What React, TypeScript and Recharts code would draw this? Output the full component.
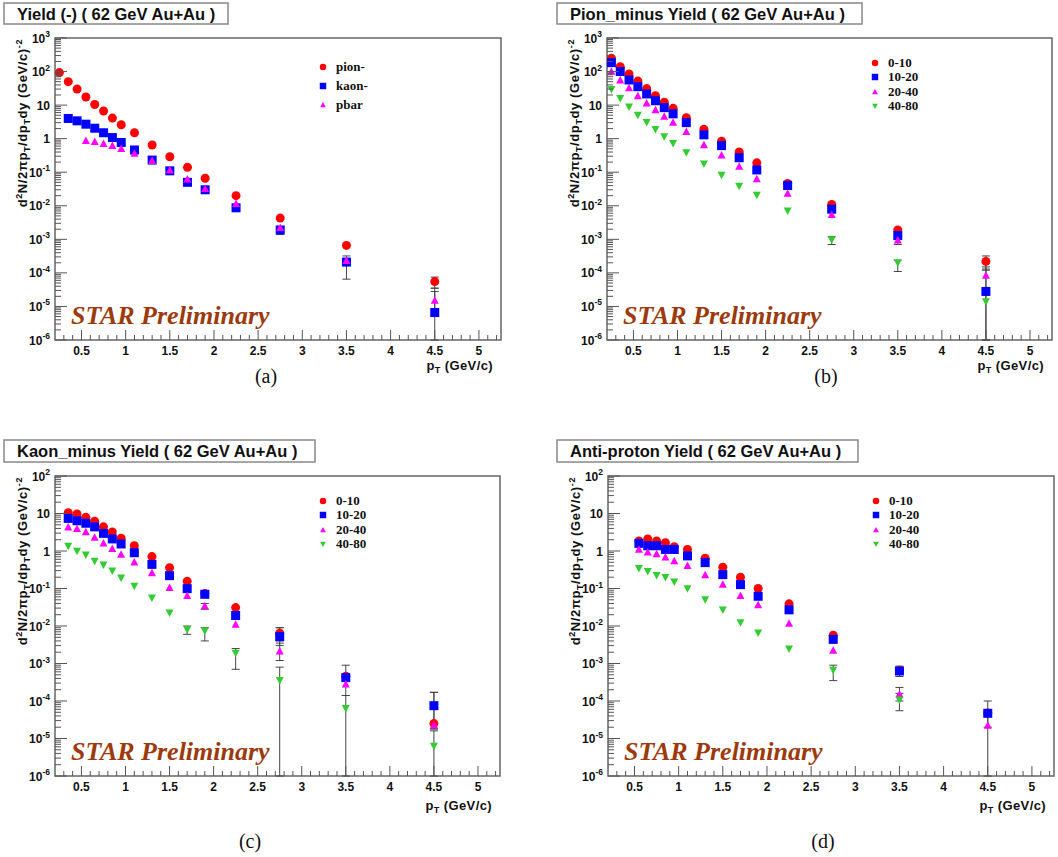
import React from "react";
import { ScatterChart, Scatter, XAxis, YAxis, ErrorBar, ReferenceArea, Legend } from "recharts";

// pT bin centres (GeV/c), shared by every spectrum
const ptBins = [0.25, 0.35, 0.45, 0.55, 0.65, 0.75, 0.85, 0.95, 1.1, 1.3, 1.5, 1.7, 1.9, 2.25, 2.75, 3.5, 4.5];

// labelled axis ticks
const ptMajorTicks = [0.5, 1, 1.5, 2, 2.5, 3, 3.5, 4, 4.5, 5];
const decadesTop = [1e-6, 1e-5, 1e-4, 1e-3, 1e-2, 1e-1, 1, 10, 100, 1000];
const decadesBottom = [1e-6, 1e-5, 1e-4, 1e-3, 1e-2, 1e-1, 1, 10, 100];

// (a) negative particles, all centralities
const yieldPion = [93, 50, 30, 17.5, 10.4, 6.7, 4.1, 2.6, 1.5, 0.65, 0.29, 0.14, 0.066, 0.02, 0.0043, 6.6e-4, 5.5e-5];
const yieldKaon = [null, 4.0, 3.4, 2.7, 2.05, 1.5, 1.08, 0.77, 0.46, 0.23, 0.11, 0.05, 0.03, 0.0087, 0.0019, 2.1e-4, 6.6e-6];
const yieldPbar = [null, null, null, 0.86, 0.8, 0.7, 0.61, 0.5, 0.36, 0.22, 0.115, 0.062, 0.032, 0.0115, 0.0022, 2.3e-4, 1.5e-5];

// (b) pi- by centrality
const pion0010 = [250, 140, 85, 52, 31, 19, 12.2, 8.0, 4.2, 1.9, 0.84, 0.4, 0.19, 0.046, 0.011, 0.0019, 2.2e-4];
const pion1020 = [184, 100, 56, 35.5, 21.5, 13.5, 8.4, 5.5, 3.0, 1.3, 0.62, 0.27, 0.117, 0.04, 0.0079, 0.0013, 2.8e-5];
const pion2040 = [100, 55, 32, 18.6, 11.4, 7.1, 4.6, 3.0, 1.6, 0.65, 0.32, 0.148, 0.063, 0.023, 0.0054, 9.3e-4, 8.3e-5];
const pion4080 = [30, 16, 9.0, 5.1, 3.1, 1.9, 1.16, 0.73, 0.39, 0.18, 0.083, 0.039, 0.021, 0.0071, 9.8e-4, 2.0e-4, 1.4e-5];

// (c) K- by centrality
const kaon0010 = [null, 10.5, 9.7, 7.9, 6.2, 4.4, 3.2, 2.2, 1.38, 0.71, 0.36, 0.155, 0.074, 0.031, 0.0064, 4.6e-4, 2.5e-5];
const kaon1020 = [null, 7.4, 6.4, 5.5, 4.4, 2.95, 2.1, 1.54, 0.9, 0.44, 0.22, 0.099, 0.07, 0.019, 0.0052, 4.2e-4, 7.5e-5];
const kaon2040 = [null, 4.3, 3.9, 3.2, 2.3, 1.6, 1.15, 0.8, 0.5, 0.26, 0.105, 0.064, 0.034, 0.011, 0.0021, 2.8e-4, 2.3e-5];
const kaon4080 = [null, 1.36, 1.0, 0.8, 0.54, 0.43, 0.3, 0.195, 0.117, 0.057, 0.0226, 0.0081, 0.0075, 0.0019, 3.6e-4, 6.4e-5, 6.3e-6];

// (d) anti-proton by centrality
const pbar0010 = [null, null, null, 1.85, 2.1, 1.85, 1.66, 1.3, 1.1, 0.64, 0.37, 0.2, 0.1, 0.039, 0.0057, 6.6e-4, 4.8e-5];
const pbar1020 = [null, null, null, 1.6, 1.38, 1.38, 1.1, 1.1, 0.74, 0.49, 0.234, 0.127, 0.062, 0.027, 0.0044, 6.3e-4, 4.7e-5];
const pbar2040 = [null, null, null, 1.1, 0.92, 0.83, 0.68, 0.54, 0.4, 0.23, 0.127, 0.064, 0.036, 0.0117, 0.0022, 1.5e-4, 2.2e-5];
const pbar4080 = [null, null, null, 0.35, 0.29, 0.225, 0.2, 0.152, 0.1, 0.051, 0.027, 0.0125, 0.0066, 0.0025, 6.7e-4, 1.08e-4, null];

// error ranges [low, high] where the bars are visible, keyed by pT
type ErrMap = Record<string, [number, number]>;
const errPionA: ErrMap = { "4.5": [3.5e-5, 7.5e-5] };
const errKaonA: ErrMap = { "2.75": [1.4e-3, 2.4e-3], "3.5": [6.5e-5, 3.2e-4], "4.5": [1e-6, 3.5e-5] };
const errPbarA: ErrMap = { "4.5": [5e-6, 2.8e-5] };
const errPion0010: ErrMap = { "4.5": [1.2e-4, 3.2e-4] };
const errPion1020: ErrMap = { "4.5": [1e-6, 1.3e-4] };
const errPion2040: ErrMap = { "3.5": [7e-4, 1.2e-3], "4.5": [3e-5, 1.5e-4] };
const errPion4080: ErrMap = { "2.75": [7e-4, 1.2e-3], "3.5": [1.1e-4, 2.4e-4], "4.5": [1e-6, 3e-5] };
const errKaon0010: ErrMap = { "2.75": [4e-3, 9e-3], "4.5": [1.8e-5, 1.7e-4] };
const errKaon1020: ErrMap = { "2.75": [3e-3, 9e-3], "3.5": [1.4e-4, 9e-4], "4.5": [1.8e-5, 1.7e-4] };
const errKaon2040: ErrMap = { "1.9": [0.028, 0.04], "2.75": [1.2e-3, 3.5e-3] };
const errKaon4080: ErrMap = { "1.7": [6e-3, 1e-2], "1.9": [4e-3, 9e-3], "2.25": [7e-4, 2.5e-3], "2.75": [1e-6, 8e-4], "3.5": [1e-6, 1.4e-4], "4.5": [1e-6, 1.6e-5] };
const errPbar1020: ErrMap = { "3.5": [4.5e-4, 8.5e-4], "4.5": [2e-5, 1e-4] };
const errPbar2040: ErrMap = { "3.5": [1e-4, 2.3e-4], "4.5": [1e-6, 4e-5] };
const errPbar4080: ErrMap = { "2.75": [3.5e-4, 9e-4], "3.5": [5.5e-5, 1.6e-4] };

const RED = "#ff0000";
const BLUE = "#0000ff";
const MAGENTA = "#ff00ff";
const GREEN = "#33cc33";
const AXIS = "#555";

type Kind = "circle" | "square" | "up" | "down";
interface SeriesDef { name: string; values: (number | null)[]; errors?: ErrMap; color: string; kind: Kind }

const toPoints = (values: (number | null)[], errors?: ErrMap) =>
  ptBins
    .map((x, i) => {
      const y = values[i];
      const e = errors ? errors[String(x)] : undefined;
      return { x, y, err: e && y != null ? [y - e[0], e[1] - y] : undefined };
    })
    .filter((p) => p.y != null);

const minorTicks = (decades: number[]) => {
  const out: number[] = [];
  decades.forEach((d, i) => {
    out.push(d);
    if (i < decades.length - 1) for (let m = 2; m <= 9; m++) out.push(+(m * d).toPrecision(3));
  });
  return out;
};
const xTicks = Array.from({ length: 50 }, (_, k) => (k + 3) / 10);

function Marker({ cx, cy, kind, color, s = 1 }: { cx: number; cy: number; kind: Kind; color: string; s?: number }) {
  if (kind === "circle") return <circle cx={cx} cy={cy} r={4.5 * s} fill={color} />;
  if (kind === "square") return <rect x={cx - 4.5 * s} y={cy - 4.5 * s} width={9 * s} height={9 * s} fill={color} />;
  const w = 4 * s, t = 4.3 * s, b = 3.2 * s;
  if (kind === "up") return <polygon points={`${cx},${cy - t} ${cx + w},${cy + b} ${cx - w},${cy + b}`} fill={color} />;
  return <polygon points={`${cx - w},${cy - b} ${cx + w},${cy - b} ${cx},${cy + t}`} fill={color} />;
}

const YTick = (props: any) => {
  const { x, y, payload } = props;
  const v = payload.value;
  const lg = Math.log10(v);
  const e = Math.round(lg);
  const major = Math.abs(lg - e) < 1e-6;
  const ax = x + 5;
  return (
    <g>
      <line x1={ax} x2={ax + (major ? 12 : 6)} y1={y} y2={y} stroke={AXIS} strokeWidth={1} />
      {major && (
        <text x={x} y={y + 4.5} textAnchor="end" fontSize={12} fontWeight="bold" fill="#111">
          {e === 0 ? "1" : "10"}
          {e !== 0 && e !== 1 && <tspan dy={-5.5} fontSize={8.5}>{e}</tspan>}
        </text>
      )}
    </g>
  );
};

const XTick = (props: any) => {
  const { x, y, payload } = props;
  const v = payload.value;
  const major = ptMajorTicks.some((t) => Math.abs(t - v) < 1e-6);
  const ay = y - 4;
  return (
    <g>
      <line x1={x} x2={x} y1={ay} y2={ay - (major ? 10 : 5)} stroke={AXIS} strokeWidth={1} />
      {major && (
        <text x={x} y={ay + 15} textAnchor="middle" fontSize={12} fontWeight="bold" fill="#111">
          {String(v)}
        </text>
      )}
    </g>
  );
};

interface PanelDef {
  title: string;
  box: { x: number; y: number; w: number; h: number };
  frame: { x: number; y: number; w: number; h: number };
  decades: number[];
  series: SeriesDef[];
  rowH: number;
  caption: { x: number; y: number; text: string };
  xTitleY: number;
}

const PT_MIN = 0.2;
const PT_MAX = 5.25;

const panels: PanelDef[] = [
  {
    title: "Yield (-) ( 62 GeV Au+Au )",
    box: { x: 4, y: 3, w: 224, h: 21 },
    frame: { x: 55, y: 38, w: 446, h: 302 },
    decades: decadesTop,
    rowH: 19,
    caption: { x: 266, y: 383, text: "(a)" },
    xTitleY: 370,
    series: [
      { name: "pion-", values: yieldPion, errors: errPionA, color: RED, kind: "circle" },
      { name: "kaon-", values: yieldKaon, errors: errKaonA, color: BLUE, kind: "square" },
      { name: "pbar", values: yieldPbar, errors: errPbarA, color: MAGENTA, kind: "up" },
    ],
  },
  {
    title: "Pion_minus Yield ( 62 GeV Au+Au )",
    box: { x: 557, y: 3, w: 305, h: 21 },
    frame: { x: 607, y: 38, w: 445, h: 302 },
    decades: decadesTop,
    rowH: 14.3,
    caption: { x: 826, y: 383, text: "(b)" },
    xTitleY: 370,
    series: [
      { name: "0-10", values: pion0010, errors: errPion0010, color: RED, kind: "circle" },
      { name: "10-20", values: pion1020, errors: errPion1020, color: BLUE, kind: "square" },
      { name: "20-40", values: pion2040, errors: errPion2040, color: MAGENTA, kind: "up" },
      { name: "40-80", values: pion4080, errors: errPion4080, color: GREEN, kind: "down" },
    ],
  },
  {
    title: "Kaon_minus Yield ( 62 GeV Au+Au )",
    box: { x: 4, y: 440, w: 311, h: 22 },
    frame: { x: 55, y: 476, w: 445, h: 300 },
    decades: decadesBottom,
    rowH: 14.3,
    caption: { x: 250, y: 848, text: "(c)" },
    xTitleY: 810,
    series: [
      { name: "0-10", values: kaon0010, errors: errKaon0010, color: RED, kind: "circle" },
      { name: "10-20", values: kaon1020, errors: errKaon1020, color: BLUE, kind: "square" },
      { name: "20-40", values: kaon2040, errors: errKaon2040, color: MAGENTA, kind: "up" },
      { name: "40-80", values: kaon4080, errors: errKaon4080, color: GREEN, kind: "down" },
    ],
  },
  {
    title: "Anti-proton Yield ( 62 GeV Au+Au )",
    box: { x: 557, y: 440, w: 301, h: 22 },
    frame: { x: 608, y: 476, w: 446, h: 300 },
    decades: decadesBottom,
    rowH: 14.3,
    caption: { x: 823, y: 848, text: "(d)" },
    xTitleY: 810,
    series: [
      { name: "0-10", values: pbar0010, color: RED, kind: "circle" },
      { name: "10-20", values: pbar1020, errors: errPbar1020, color: BLUE, kind: "square" },
      { name: "20-40", values: pbar2040, errors: errPbar2040, color: MAGENTA, kind: "up" },
      { name: "40-80", values: pbar4080, errors: errPbar4080, color: GREEN, kind: "down" },
    ],
  },
];

function LegendBlock({ series, rowH }: { series: SeriesDef[]; rowH: number }) {
  return (
    <div>
      {series.map((s) => (
        <div key={s.name} style={{ display: "flex", alignItems: "center", height: rowH }}>
          <svg width={10} height={10} style={{ marginRight: 8 }}>
            <Marker cx={5} cy={5} kind={s.kind} color={s.color} s={0.72} />
          </svg>
          <span style={{ fontFamily: "Liberation Serif", fontWeight: "bold", fontSize: 13, color: "#111" }}>{s.name}</span>
        </div>
      ))}
    </div>
  );
}

function Panel({ p }: { p: PanelDef }) {
  const { frame } = p;
  const W = frame.w + 65;
  const H = frame.h + 88;
  const yMax = p.decades[p.decades.length - 1];
  const firstRow = p.series.length === 3 ? 67 - 38 : 63 - 38;
  return (
    <div style={{ position: "absolute", left: frame.x - 55, top: frame.y - 38, width: W, height: H }}>
      <ScatterChart width={W} height={H} margin={{ top: 38, right: 10, bottom: 20, left: 5 }}>
        <XAxis type="number" dataKey="x" domain={[PT_MIN, PT_MAX]} allowDataOverflow ticks={xTicks} interval={0}
          tickSize={0} tickMargin={4} axisLine={false} tickLine={false} tick={(t: any) => <XTick {...t} />} height={30} />
        <YAxis type="number" dataKey="y" scale="log" domain={[1e-6, yMax]} allowDataOverflow ticks={minorTicks(p.decades)}
          interval={0} tickSize={0} tickMargin={5} axisLine={false} tickLine={false} tick={(t: any) => <YTick {...t} />} width={50} />
        <ReferenceArea x1={PT_MIN} x2={PT_MAX} y1={1e-6} y2={yMax} fill="none" stroke="#666" strokeWidth={1.5} ifOverflow="visible" />
        {p.series.map((s) => (
          <Scatter key={s.name} name={s.name} data={toPoints(s.values, s.errors)} isAnimationActive={false}
            shape={(sp: any) => <Marker cx={sp.cx} cy={sp.cy} kind={s.kind} color={s.color} />}>
            <ErrorBar dataKey="err" direction="y" width={4} stroke="#444" strokeWidth={1} />
          </Scatter>
        ))}
        <Legend layout="vertical" align="center" verticalAlign="middle"
          wrapperStyle={{ left: 318, top: 38 + firstRow - p.rowH / 2, width: 90 }}
          content={() => <LegendBlock series={p.series} rowH={p.rowH} />} />
      </ScatterChart>
    </div>
  );
}

function Annotations({ p }: { p: PanelDef }) {
  const { frame, box } = p;
  const yx = frame.x - 28;
  const yy = frame.y + 1;
  return (
    <g>
      <rect x={box.x} y={box.y} width={box.w} height={box.h} fill="#fff" stroke="#888" strokeWidth={1.5} />
      <text x={box.x + 13} y={box.y + 17} fontSize={16.5} fontWeight="bold" fill="#111">{p.title}</text>
      <text transform={`translate(${yx},${yy}) rotate(-90)`} textAnchor="end" fontSize={13} fontWeight="bold"
        letterSpacing={0.6} fill="#111">
        d<tspan dy={-5} fontSize={9}>2</tspan>
        <tspan dy={5}>N/2πp</tspan>
        <tspan dy={3} fontSize={9}>T</tspan>
        <tspan dy={-3}>/dp</tspan>
        <tspan dy={3} fontSize={9}>T</tspan>
        <tspan dy={-3}>dy (GeV/c)</tspan>
        <tspan dy={-5} fontSize={9}>-2</tspan>
      </text>
      <text x={frame.x + frame.w - 8} y={p.xTitleY} textAnchor="end" fontSize={13} fontWeight="bold" letterSpacing={0.4} fill="#111">
        p<tspan dy={3} fontSize={9}>T</tspan>
        <tspan dy={-3}> (GeV/c)</tspan>
      </text>
      <text x={frame.x + 16} y={frame.y + frame.h - 16} fontFamily="Liberation Serif" fontStyle="italic" fontWeight="bold"
        fontSize={26} fill="#9c3a0c">STAR Preliminary</text>
      <text x={p.caption.x} y={p.caption.y} textAnchor="middle" fontFamily="Liberation Serif" fontSize={20} fill="#111">
        {p.caption.text}
      </text>
    </g>
  );
}

export default function App() {
  return (
    <div style={{ position: "absolute", left: 0, top: 0, width: 1058, height: 857, background: "#fff", fontFamily: "Liberation Sans" }}>
      {panels.map((p) => (
        <Panel key={p.title} p={p} />
      ))}
      <svg width={1058} height={857} style={{ position: "absolute", left: 0, top: 0, pointerEvents: "none", fontFamily: "Liberation Sans" }}>
        {panels.map((p) => (
          <Annotations key={p.title} p={p} />
        ))}
      </svg>
    </div>
  );
}
